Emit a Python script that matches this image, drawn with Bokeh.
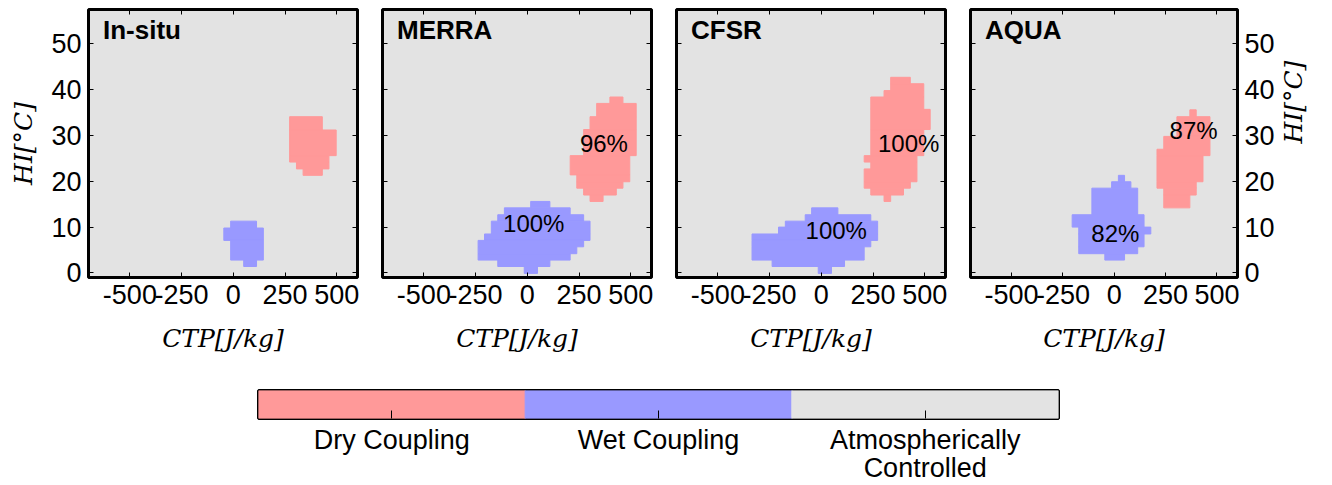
import math
from bokeh.plotting import figure
from bokeh.models import Range1d, LinearAxis, FixedTicker, Label, CustomLabelingPolicy
from bokeh.layouts import column, row
from bokeh.embed import file_html
from bokeh.resources import INLINE
from bokeh.core.properties import value

panel_names = ["In-situ", "MERRA", "CFSR", "AQUA"]
x_ticks = [-500, -250, 0, 250, 500]
x_tick_text = ["-500", "-250", "0", "250", "500"]
y_ticks = [0, 10, 20, 30, 40, 50]
x_lim = (-700, 600)
y_lim = (-1, 57.5)

# regime cells, one row span per entry: (HI bottom, HI top, CTP left, CTP right)
insitu_dry = [(31.2, 34.1, 272, 430), (25.6, 31.2, 272, 497), (24.2, 25.6, 272, 462),
              (22.7, 24.2, 305, 462), (21.3, 22.7, 337, 430)]
insitu_wet = [(9.8, 11.3, -13, 112), (7.1, 9.8, -46, 145), (2.8, 7.1, -13, 145),
              (1.4, 2.8, 50, 112)]
merra_dry = [(37.0, 38.4, 399, 462), (34.1, 37.0, 335, 526), (31.3, 34.1, 303, 526),
             (25.6, 31.3, 272, 526), (21.4, 25.6, 207, 495), (19.9, 21.4, 239, 495),
             (18.5, 19.9, 239, 462), (17.0, 18.5, 272, 430), (15.6, 17.0, 303, 366)]
merra_wet = [(14.2, 15.6, 16, 109), (12.7, 14.2, -111, 207), (11.3, 12.7, -143, 272),
             (8.5, 11.3, -174, 303), (7.1, 8.5, -207, 303), (5.7, 7.1, -238, 272),
             (4.2, 5.7, -238, 239), (2.8, 4.2, -238, 207), (1.4, 2.8, -143, 109),
             (-0.1, 1.4, -15, 49)]
cfsr_dry = [(41.3, 42.7, 335, 430), (39.8, 41.3, 335, 495), (38.4, 39.8, 303, 495),
            (35.7, 38.4, 239, 495), (31.3, 35.7, 239, 526), (25.6, 31.3, 239, 495),
            (24.2, 25.6, 207, 462), (22.7, 24.2, 239, 462), (19.9, 22.7, 207, 462),
            (18.5, 19.9, 207, 430), (17.0, 18.5, 239, 397), (15.6, 17.0, 303, 335)]
cfsr_wet = [(12.7, 14.2, -47, 80), (11.3, 12.7, -78, 239), (10.0, 11.3, -174, 272),
            (8.5, 10.0, -207, 272), (7.1, 8.5, -335, 272), (5.7, 7.1, -335, 239),
            (2.8, 5.7, -335, 207), (1.4, 2.8, -238, 112), (-0.1, 1.4, -15, 49)]
aqua_dry = [(34.1, 35.6, 368, 399), (29.8, 34.1, 305, 466), (27.0, 29.8, 241, 466),
            (25.6, 27.0, 208, 466), (19.9, 25.6, 208, 432), (18.5, 19.9, 208, 399),
            (17.0, 18.5, 241, 399), (14.2, 17.0, 241, 368)]
aqua_wet = [(19.9, 21.3, 20, 50), (18.5, 19.9, -13, 81), (12.7, 18.5, -109, 114),
            (10.0, 12.7, -205, 145), (8.5, 10.0, -173, 178), (5.7, 8.5, -173, 145),
            (4.2, 5.7, -173, 114), (2.8, 4.2, -46, 50)]

# agreement percentages: (CTP, HI, text)
insitu_pct = []
merra_pct = [(370, 28.3, "96%"), (31, 10.8, "100%")]
cfsr_pct = [(422, 28.2, "100%"), (72, 9.2, "100%")]
aqua_pct = [(386, 31.1, "87%"), (5, 8.5, "82%")]

regime_labels = ["Dry Coupling", "Wet Coupling", "Atmospherically\nControlled"]
regime_colors = ["#ff9999", "#9999ff", "#e3e3e3"]

panel_dry = [insitu_dry, merra_dry, cfsr_dry, aqua_dry]
panel_wet = [insitu_wet, merra_wet, cfsr_wet, aqua_wet]
panel_pct = [insitu_pct, merra_pct, cfsr_pct, aqua_pct]

SANS = "Liberation Sans"
SERIF = "DejaVu Serif"

HIDE_LABELS = "for (const i of Array.from(indices)) { indices.unset(i) }\nreturn indices"


def style_axis(ax, ticks, show_labels):
    ax.ticker = FixedTicker(ticks=ticks)
    ax.major_tick_in = 5
    ax.major_tick_out = 0
    ax.minor_tick_in = 0
    ax.minor_tick_out = 0
    ax.axis_line_color = None
    ax.major_tick_line_color = "black"
    ax.major_label_text_font = SANS
    ax.major_label_text_color = "black"
    if show_labels:
        ax.major_label_text_font_size = "27px"
        ax.major_label_standoff = 7
    else:
        ax.major_label_text_font_size = "1px"
        ax.major_label_standoff = 0
        ax.major_label_policy = CustomLabelingPolicy(code=HIDE_LABELS)
    ax.axis_label_text_font = SERIF
    ax.axis_label_text_font_size = "25px"
    ax.axis_label_text_font_style = "italic"
    ax.axis_label_text_color = "black"


def make_panel(i):
    lefts = [88, 13, 13, 13]
    rights = [12, 12, 12, 95]
    fw = [269, 269, 269, 267]
    p = figure(frame_width=fw[i], frame_height=268, x_range=Range1d(*x_lim), y_range=Range1d(*y_lim),
               output_backend="svg", toolbar_location=None, title=None,
               min_border_left=lefts[i], min_border_right=rights[i],
               min_border_top=9, min_border_bottom=93)
    p.background_fill_color = regime_colors[2]
    p.border_fill_color = "white"
    p.outline_line_color = "black"
    p.outline_line_width = 3
    p.grid.visible = False
    for rows_, col in ((panel_dry[i], regime_colors[0]), (panel_wet[i], regime_colors[1])):
        p.quad(bottom=[r[0] for r in rows_], top=[r[1] for r in rows_],
               left=[r[2] for r in rows_], right=[r[3] for r in rows_],
               fill_color=col, line_color=col, line_width=1)
    pct = panel_pct[i]
    if pct:
        p.text(x=[t[0] for t in pct], y=[t[1] for t in pct], text=[t[2] for t in pct],
               text_font=value(SANS), text_font_size="24px", text_align="center",
               text_baseline="middle", text_color="black")
    p.add_layout(Label(x=-630, y=56.2, text=panel_names[i], text_font=SANS,
                       text_font_style="bold", text_font_size="26px", text_baseline="top",
                       text_color="black"))
    style_axis(p.xaxis[0], x_ticks, True)
    p.xaxis[0].major_label_overrides = dict(zip(x_ticks, x_tick_text))
    p.xaxis[0].axis_label = "CTP[J/kg]"
    p.xaxis[0].axis_label_standoff = 17
    style_axis(p.yaxis[0], y_ticks, i == 0)
    if i == 0:
        p.yaxis[0].axis_label = "HI[°C]"
        p.yaxis[0].axis_label_standoff = 10
    top = LinearAxis()
    style_axis(top, x_ticks, False)
    p.add_layout(top, "above")
    right = LinearAxis()
    style_axis(right, y_ticks, i == 3)
    if i == 3:
        right.axis_label = "HI[°C]"
        right.axis_label_standoff = 16
        right.axis_label_orientation = math.pi / 2
    p.add_layout(right, "right")
    return p


panels = [make_panel(i) for i in range(4)]

cb = figure(frame_width=800, frame_height=28, x_range=Range1d(0, 3), y_range=Range1d(0, 1),
            output_backend="svg", toolbar_location=None, title=None,
            min_border_left=258, min_border_right=274, min_border_top=20, min_border_bottom=67)
cb.grid.visible = False
cb.outline_line_color = "black"
cb.outline_line_width = 3
cb.yaxis.visible = False
idx = list(range(len(regime_labels)))
cb.quad(left=idx, right=[k + 1 for k in idx], bottom=0, top=1, fill_color=regime_colors,
        line_color=regime_colors)
ax = cb.xaxis[0]
ax.ticker = FixedTicker(ticks=[k + 0.5 for k in idx])
ax.major_label_overrides = {k + 0.5: regime_labels[k] for k in idx}
ax.major_tick_in = 8
ax.major_tick_out = 0
ax.minor_tick_in = 0
ax.minor_tick_out = 0
ax.axis_line_color = None
ax.major_label_text_font = SANS
ax.major_label_text_font_size = "27px"
ax.major_label_text_line_height = 0.95
ax.major_label_standoff = 6
ax.major_label_text_color = "black"

layout = column(row(*panels, spacing=0), cb, spacing=0)
open("out.html", "w").write(file_html(layout, INLINE))
